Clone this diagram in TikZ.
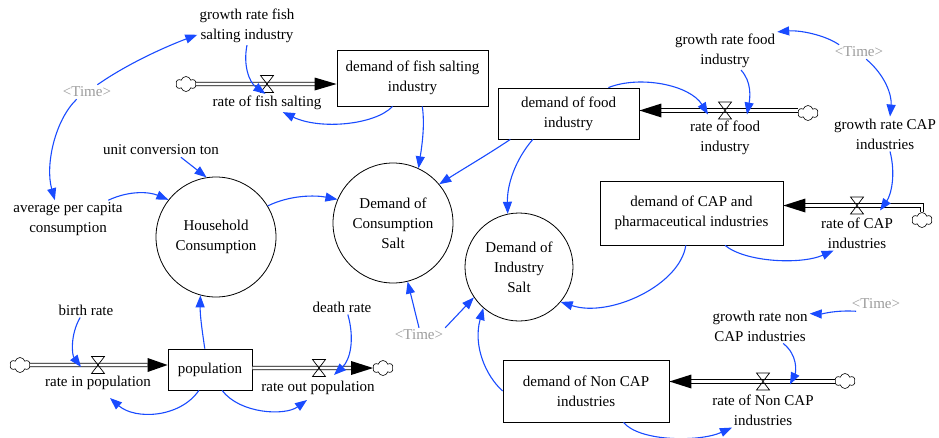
\documentclass[tikz,border=0pt]{standalone}
\usepackage{fontspec}
\setmainfont{Liberation Serif}
\usetikzlibrary{shapes.symbols,arrows.meta,calc}
\definecolor{lnk}{RGB}{25,75,255}
\definecolor{tgray}{RGB}{155,155,155}
\tikzset{
  valvepic/.pic={\draw[line width=0.7pt] (-6.5,-8.5) -- (6.5,-8.5) -- (-6.5,8.5) -- (6.5,8.5) -- cycle;}
}
\begin{document}
\begin{tikzpicture}[x=1pt,y=-1pt,
  every node/.style={font=\fontsize{15}{20}\selectfont},
  var/.style={align=center, inner sep=2pt},
  tvar/.style={var, text=tgray},
  stock/.style={draw, line width=0.8pt, align=center, inner sep=2pt},
  auxc/.style={draw, circle, line width=0.8pt, align=center, inner sep=1pt, minimum size=#1},
  src/.style={cloud, cloud puffs=6, aspect=1.4, draw, line width=0.6pt, fill=white, minimum width=20pt, minimum height=15pt, inner sep=0pt},
  pipe/.style={draw, double, double distance=2.6pt, line width=0.8pt},
  infl/.style={draw=lnk, line width=1.1pt, -{Triangle[length=12pt,width=9pt]}}
]
\useasboundingbox (0,0) rectangle (939,437);

% valves
\coordinate (vfish) at (267,84);
\coordinate (vfood) at (725,110.5);
\coordinate (vcap) at (857,205.5);
\coordinate (vin) at (98,365);
\coordinate (vout) at (319,368);
\coordinate (vnon) at (763,381.5);

% nodes
\node[var] (grfish) at (247,26) {growth rate fish\\salting industry};
\node[tvar] (time1) at (87,92) {<Time>};
\node[var] (rfish) at (267,103) {rate of fish salting};
\node[stock, minimum width=151pt, minimum height=56pt] (boxfish) at (412.5,78) {demand of fish salting\\industry};
\node[stock, minimum width=141pt, minimum height=51pt] (boxfood) at (568.5,113.5) {demand of food\\industry};
\node[var] (rfood) at (725,138) {rate of food\\industry};
\node[var] (grfood) at (725,51) {growth rate food\\industry};
\node[tvar] (time2) at (859,52) {<Time>};
\node[var] (grcap) at (885,134) {growth rate CAP\\industries};
\node[stock, minimum width=183pt, minimum height=64pt] (boxcap) at (691.5,213) {demand of CAP and\\pharmaceutical industries};
\node[var] (rcap) at (857,233) {rate of CAP\\industries};
\node[auxc=108pt] (cind) at (519,267) {Demand of\\Industry\\Salt};
\node[auxc=120pt] (ccons) at (393,223) {Demand of\\Consumption\\Salt};
\node[auxc=120pt] (chouse) at (216,237) {Household\\Consumption};
\node[var] (unit) at (161,150) {unit conversion ton};
\node[var] (avg) at (68,219) {average per capita\\consumption};
\node[var] (birth) at (86,310) {birth rate};
\node[var] (death) at (342,307) {death rate};
\node[tvar] (time3) at (419,335) {<Time>};
\node[stock, minimum width=84pt, minimum height=41pt] (pop) at (210,369.5) {population};
\node[var] (rin) at (98,383) {rate in population};
\node[var] (rout) at (318,388) {rate out population};
\node[tvar] (time4) at (876,304) {<Time>};
\node[var] (grnon) at (760,326) {growth rate non\\CAP industries};
\node[stock, minimum width=166pt, minimum height=62pt] (boxnon) at (586,391) {demand of Non CAP\\industries};
\node[var] (rnon) at (763,410) {rate of Non CAP\\industries};

% clouds
\node[src] (clfish) at (186,84) {};
\node[src] (clfood) at (808,113) {};
\node[src] (clcap) at (922,220) {};
\node[src] (clin) at (20,365) {};
\node[src] (clout) at (383,368) {};
\node[src] (clnon) at (845,381) {};

% pipes
\draw[pipe] (clfish.east) -- ($(boxfish.west |- vfish)+(-20,0)$);
\fill (boxfish.west |- vfish) -- ++(-22,-6.5) -- ++(0,13) -- cycle;
\draw[pipe] ($(boxfood.east |- vfood)+(20,0)$) -- (clfood.west |- vfood);
\fill (boxfood.east |- vfood) -- ++(22,-7) -- ++(0,14) -- cycle;
\draw[pipe] ($(boxcap.east |- vcap)+(20,0)$) -- (clcap.north |- vcap) -- (clcap.north);
\fill (boxcap.east |- vcap) -- ++(22,-7) -- ++(0,14) -- cycle;
\draw[pipe] (clin.east) -- ($(pop.west |- vin)+(-20,0)$);
\fill (pop.west |- vin) -- ++(-20,-7) -- ++(0,14) -- cycle;
\draw[pipe] (pop.east |- vout) -- ($(clout.west)+(-20,0)$);
\fill (clout.west) -- ++(-22,-7) -- ++(0,14) -- cycle;
\draw[pipe] ($(boxnon.east |- vnon)+(20,0)$) -- (clnon.west |- vnon);
\fill (boxnon.east |- vnon) -- ++(22,-7) -- ++(0,14) -- cycle;

\pic at (vfish) {valvepic};
\pic at (vfood) {valvepic};
\pic at (vcap) {valvepic};
\pic at (vin) {valvepic};
\pic at (vout) {valvepic};
\pic at (vnon) {valvepic};

% influence links
\draw[infl] (time1.35) .. controls (130,62) and (170,45) .. (grfish.190);
\draw[infl] (time1.215) .. controls (55,120) and (45,165) .. (avg.125);
\draw[infl] (grfish.south) .. controls (243,65) and (249,82) .. (rfish.100);
\draw[infl] (boxfish.235) .. controls (375,125) and (320,130) .. (rfish.330);
\draw[infl] (boxfish.289) .. controls (425,125) and (422,145) .. (ccons.65);
\draw[infl] (boxfood.204) .. controls (487,155) and (463,169) .. (ccons.40);
\draw[infl] (boxfood.216) .. controls (515,160) and (507,185) .. (cind.102);
\draw[infl] (boxfood.33) .. controls (640,75) and (690,85) .. ($(vfood)+(-17,4)$);
\draw[infl] (grfood.310) .. controls (752,82) and (750,98) .. ($(vfood)+(22,4)$);
\draw[infl] (time2.160) .. controls (825,35) and (800,30) .. (grfood.north east);
\draw[infl] (time2.315) .. controls (885,75) and (892,95) .. (grcap.74);
\draw[infl] (grcap.286) .. controls (896,175) and (891,195) .. ($(vcap)+(23,5)$);
\draw[infl] (boxcap.316) .. controls (745,262) and (800,265) .. (rcap.217);
\draw[infl] (boxcap.260) .. controls (680,285) and (610,318) .. (cind.320);
\draw[infl] (chouse.31) .. controls (290,195) and (315,195) .. (ccons.157);
\draw[infl] (unit.340) -- (chouse.99);
\draw[infl] (avg.25) .. controls (130,190) and (150,192) .. (chouse.142);
\draw[infl] (pop.104) .. controls (202,330) and (200,315) .. (chouse.255);
\draw[infl] (birth.232) .. controls (70,335) and (72,355) .. ($(vin)+(-17,2)$);
\draw[infl] (pop.242) .. controls (180,418) and (135,420) .. ($(rin.south)+(12,6)$);
\draw[infl] (pop.300) .. controls (240,414) and (285,416) .. ($(rout.south)+(-11,3)$);
\draw[infl] (death.308) .. controls (355,340) and (350,360) .. ($(vout)+(15,7)$);
\draw[infl] (time3.north) -- (ccons.284);
\draw[infl] (time3.north east) -- (cind.214);
\draw[infl] (boxnon.west) .. controls (485,375) and (473,345) .. (cind.229);
\draw[infl] (time4.200) .. controls (835,310) and (822,314) .. (grnon.14);
\draw[infl] (grnon.323) .. controls (798,355) and (796,372) .. ($(vnon)+(27,3)$);
\draw[infl] (boxnon.320) .. controls (640,442) and (700,442) .. ($(rnon.south)+(-31,0)$);
\end{tikzpicture}
\end{document}
